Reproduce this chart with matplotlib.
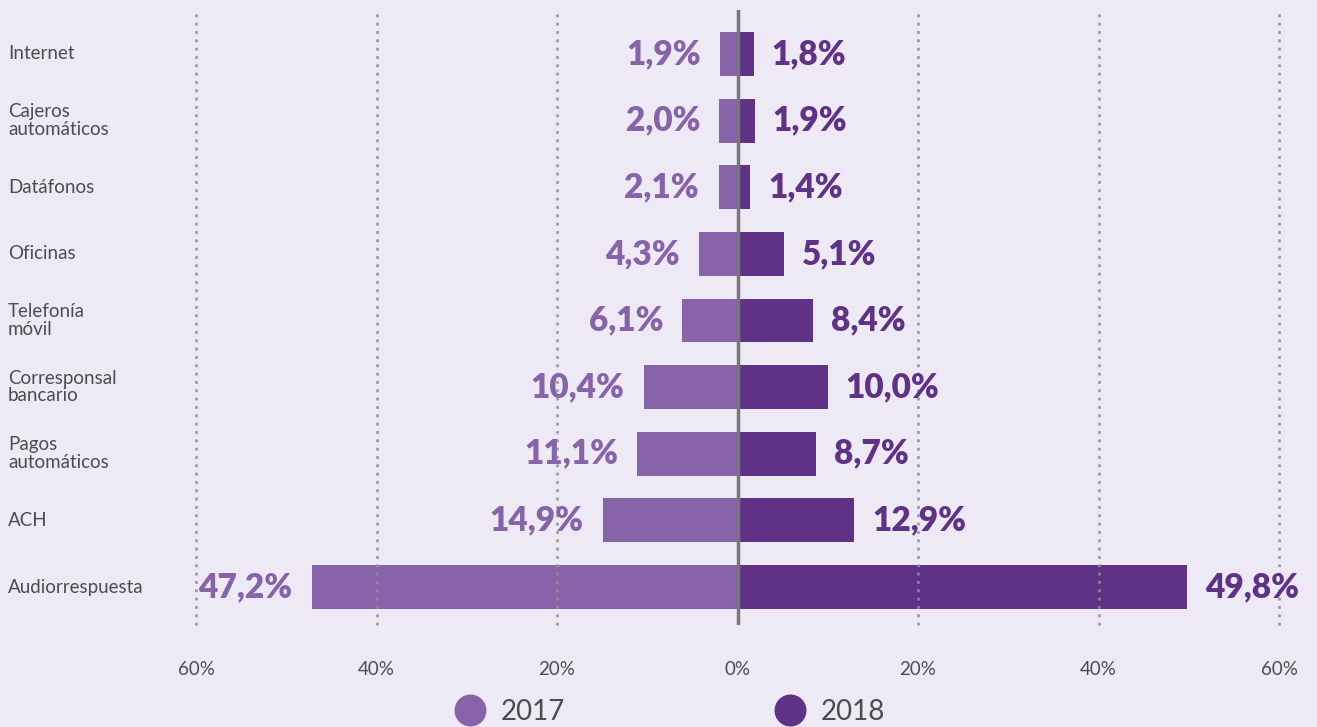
import numpy as np
import matplotlib
matplotlib.use("Agg")
import matplotlib.pyplot as plt
import matplotlib.transforms as mtransforms
from matplotlib.lines import Line2D

plt.rcParams['font.family'] = ['Lato', 'DejaVu Sans']

# datos
canales = ["Internet", "Cajeros\nautomáticos", "Datáfonos", "Oficinas",
           "Telefonía\nmóvil", "Corresponsal\nbancario", "Pagos\nautomáticos",
           "ACH", "Audiorrespuesta"]
v2017 = [1.9, 2.0, 2.1, 4.3, 6.1, 10.4, 11.1, 14.9, 47.2]
v2018 = [1.8, 1.9, 1.4, 5.1, 8.4, 10.0, 8.7, 12.9, 49.8]
ticks = [-60, -40, -20, 0, 20, 40, 60]
tick_labels = ["60%", "40%", "20%", "0%", "20%", "40%", "60%"]

bg = "#ede9f5"
c17 = "#8764a9"
c18 = "#5f3187"
gris = "#4d4d4d"

fig = plt.figure(figsize=(13.17, 7.27), dpi=100, facecolor=bg)
ax = fig.add_axes([196/1317, 102/727, 1083/1317, 615/727], facecolor=bg)

y = np.arange(len(canales))
ax.barh(y, -np.array(v2017), height=0.66, color=c17, zorder=2)
ax.barh(y, v2018, height=0.66, color=c18, zorder=2)

for t in ticks:
    if t != 0:
        ax.axvline(t, color="#8f8f8f", lw=2, linestyle=(0, (1, 2)), zorder=3,
                   alpha=0.85, clip_on=False)
ax.axvline(0, color="#777777", lw=2.5, zorder=4)

for i in range(len(canales)):
    ax.annotate(f"{v2017[i]:.1f}%".replace(".", ","), (-v2017[i], i),
                xytext=(-14, 0), textcoords="offset points", ha="right", va="center",
                fontsize=24, fontweight="heavy", color=c17, annotation_clip=False)
    ax.annotate(f"{v2018[i]:.1f}%".replace(".", ","), (v2018[i], i),
                xytext=(13, 0), textcoords="offset points", ha="left", va="center",
                fontsize=24, fontweight="heavy", color=c18, annotation_clip=False)

trans = mtransforms.blended_transform_factory(fig.transFigure, ax.transData)
for i, c in enumerate(canales):
    ax.text(8/1317, i, c, transform=trans, ha="left", va="center",
            fontsize=13.5, color=gris, linespacing=1.05)

ax.set_xlim(-60, 60)
ax.set_ylim(8.57, -0.66)
ax.set_xticks(ticks)
ax.set_xticklabels(tick_labels)
ax.set_yticks([])
ax.tick_params(axis="x", length=0, pad=26, labelsize=13.5, labelcolor=gris)
for s in ax.spines.values():
    s.set_visible(False)

handles = [Line2D([], [], marker="o", ls="", ms=22, color=c17, label="2017"),
           Line2D([], [], marker="o", ls="", ms=22, color=c18, label="2018")]
fig.legend(handles=handles, loc="center", bbox_to_anchor=(0.508, 0.021), ncol=2,
           frameon=False, fontsize=20, labelcolor=gris, handletextpad=0.5,
           columnspacing=7.5, handlelength=1.2)

fig.savefig("out.png", dpi=100, facecolor=bg)
